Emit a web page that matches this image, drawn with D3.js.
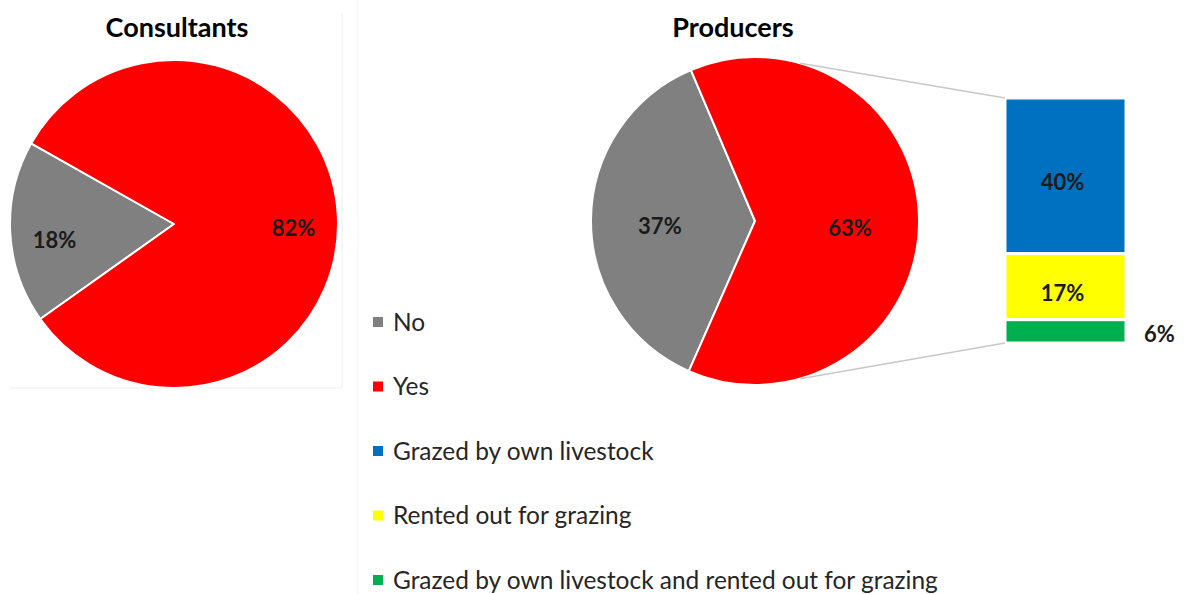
<!DOCTYPE html>
<html>
<head>
<meta charset="utf-8">
<script src="https://cdn.jsdelivr.net/npm/d3@7"></script>
<style>
  html, body { margin: 0; padding: 0; background: #ffffff; }
  svg { display: block; }
  text { font-family: Lato, "Open Sans", "Liberation Sans", sans-serif; }
</style>
</head>
<body>
<svg id="chart" width="1200" height="594"></svg>
<script>
// ---------- data ----------
const chartTitles = ["Consultants", "Producers"];
const pieCategories = ["No", "Yes"];
const consultantsValues = [18, 82];
const producersValues = [37, 63];
const barCategories = ["Grazed by own livestock", "Rented out for grazing", "Grazed by own livestock and rented out for grazing"];
const barValues = [40, 17, 6];
const pieColors = ["#808080", "#ff0000"];
const barColors = ["#0070c0", "#ffff00", "#00b050"];
const legendLabels = pieCategories.concat(barCategories);
const legendColors = pieColors.concat(barColors);

const svg = d3.select("#chart");
const deg = Math.PI / 180;

// faint chart-area borders
svg.append("line").attr("x1", 342).attr("x2", 342).attr("y1", 14).attr("y2", 388)
  .attr("stroke", "#ededed").attr("stroke-width", 1);
svg.append("line").attr("x1", 10).attr("x2", 342).attr("y1", 388).attr("y2", 388)
  .attr("stroke", "#ededed").attr("stroke-width", 1);
svg.append("line").attr("x1", 358).attr("x2", 358).attr("y1", 0).attr("y2", 594)
  .attr("stroke", "#f5f5f5").attr("stroke-width", 1);

function drawPie(values, cx, cy, r, startDeg, labelFrac, labelDy) {
  const pie = d3.pie().sort(null).value(d => d)
    .startAngle(startDeg * deg).endAngle(startDeg * deg + 2 * Math.PI);
  const arcs = pie(values);
  const arc = d3.arc().innerRadius(0).outerRadius(r);
  const labelArc = d3.arc().innerRadius(r * labelFrac).outerRadius(r * labelFrac);
  const g = svg.append("g").attr("transform", `translate(${cx},${cy})`);
  g.selectAll("path").data(arcs).enter().append("path")
    .attr("d", arc)
    .attr("fill", (d, i) => pieColors[i])
    .attr("stroke", "#ffffff").attr("stroke-width", 2).attr("stroke-linejoin", "round");
  g.selectAll("text").data(arcs).enter().append("text")
    .attr("x", d => labelArc.centroid(d)[0])
    .attr("y", d => labelArc.centroid(d)[1] + labelDy)
    .attr("dy", "0.36em")
    .attr("text-anchor", "middle")
    .attr("font-size", 22).attr("font-weight", 700).attr("fill", "#1a1a1a")
    .text(d => d.data + "%");
  return { arcs, g };
}

// Consultants pie
drawPie(consultantsValues, 174, 224, 164, 234.6, 0.73, 10);
// Producers pie
const prodCx = 755, prodCy = 221, prodR = 164;
drawPie(producersValues, prodCx, prodCy, prodR, 203.8, 0.58, 6);

// Titles
svg.append("text").attr("x", 177).attr("y", 37).attr("text-anchor", "middle")
  .attr("font-size", 27).attr("font-weight", 700).attr("fill", "#000")
  .text(chartTitles[0]);
svg.append("text").attr("x", 733).attr("y", 37).attr("text-anchor", "middle")
  .attr("font-size", 27).attr("font-weight", 700).attr("fill", "#000")
  .text(chartTitles[1]);

// Stacked bar (breakdown of "Yes")
const barTotal = d3.sum(barValues);
const y = d3.scaleLinear().domain([0, barTotal]).range([343, 98]);
const barX0 = 1005, barX1 = 1126;
// first value on top, last value at the bottom
const ordered = barValues.map((v, k) => {
  const fromTop = d3.sum(barValues.slice(0, k));
  return { v, i: k, top: barTotal - fromTop, bottom: barTotal - fromTop - v };
});
const barG = svg.append("g");
barG.selectAll("rect").data(ordered).enter().append("rect")
  .attr("x", barX0).attr("width", barX1 - barX0)
  .attr("y", d => y(d.top)).attr("height", d => y(d.bottom) - y(d.top))
  .attr("fill", d => barColors[d.i])
  .attr("stroke", "#ffffff").attr("stroke-width", 3);
barG.selectAll("text").data(ordered).enter().append("text")
  .attr("x", d => d.v < 10 ? barX1 + 18 : (barX0 + barX1) / 2 - 3)
  .attr("y", d => (y(d.top) + y(d.bottom)) / 2 + (d.v < 10 ? 3 : 6))
  .attr("dy", "0.36em")
  .attr("text-anchor", d => d.v < 10 ? "start" : "middle")
  .attr("font-size", 22).attr("font-weight", 700).attr("fill", "#1a1a1a")
  .text(d => d.v + "%");

// connector lines from pie to bar
const topAng = 16 * deg, botAng = 164 * deg;
svg.append("line")
  .attr("x1", prodCx + prodR * Math.sin(topAng)).attr("y1", prodCy - prodR * Math.cos(topAng))
  .attr("x2", barX0).attr("y2", y(barTotal))
  .attr("stroke", "#c8c8c8").attr("stroke-width", 1.5);
svg.append("line")
  .attr("x1", prodCx + prodR * Math.sin(botAng)).attr("y1", prodCy - prodR * Math.cos(botAng))
  .attr("x2", barX0).attr("y2", y(0))
  .attr("stroke", "#c8c8c8").attr("stroke-width", 1.5);

// Legend
const legY = d3.scalePoint().domain(legendLabels).range([322, 580]);
const leg = svg.append("g");
const items = leg.selectAll("g").data(legendLabels).enter().append("g")
  .attr("transform", d => `translate(373,${legY(d)})`);
items.append("rect").attr("x", 0).attr("y", -5).attr("width", 10).attr("height", 10)
  .attr("fill", (d, i) => legendColors[i]);
const legTexts = items.append("text").attr("x", 20).attr("y", 0).attr("dy", "0.36em")
  .attr("font-size", 20).attr("fill", "#262626")
  .text(d => d);
// fit legend font size to the reference width of the longest entry
const longest = legTexts.filter((d, i) => i === legendLabels.length - 1).node();
const w = longest.getComputedTextLength();
const fs = 20 * 545 / w;
legTexts.attr("font-size", fs);
</script>
</body>
</html>
